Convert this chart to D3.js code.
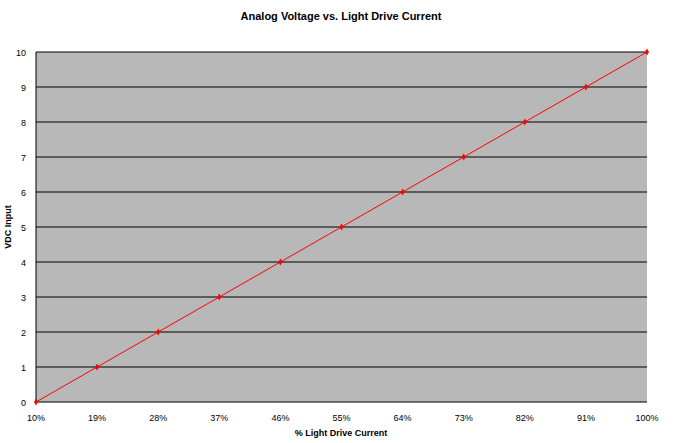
<!DOCTYPE html><html><head><meta charset="utf-8"><script src="https://cdn.jsdelivr.net/npm/d3@7"></script>
<style>body{margin:0;background:#fff}text{font-family:Arial,"Liberation Sans",sans-serif}</style></head><body><svg id="c" width="674" height="443"></svg><script>
const categories=["10%","19%","28%","37%","46%","55%","64%","73%","82%","91%","100%"];
const values=[0,1,2,3,4,5,6,7,8,9,10];
const yTicks=[0,1,2,3,4,5,6,7,8,9,10];
const svg=d3.select("#c");
const L=36,R=647,T=52,B=402;
const x=d3.scalePoint().domain(categories).range([L,R]);
const y=d3.scaleLinear().domain([0,10]).range([B,T]);
svg.append("rect").attr("x",L).attr("y",T).attr("width",R-L).attr("height",B-T).attr("fill","#b8b8b8");
svg.append("g").selectAll("line").data(yTicks).join("line").attr("x1",L).attr("x2",R).attr("y1",d=>y(d)).attr("y2",d=>y(d)).attr("stroke","#000").attr("stroke-width",1);
svg.append("line").attr("x1",L).attr("x2",L).attr("y1",T).attr("y2",B).attr("stroke","#000");
svg.append("g").selectAll("text").data(yTicks).join("text").attr("x",L-10).attr("y",d=>y(d)+4).attr("text-anchor","end").attr("font-size",9).text(d=>d);
svg.append("g").selectAll("text").data(categories).join("text").attr("x",d=>x(d)).attr("y",B+19).attr("text-anchor","middle").attr("font-size",9).text(d=>d);
svg.append("path").datum(values).attr("fill","none").attr("stroke","#ff0000").attr("stroke-width",1)
 .attr("d",d3.line().x((d,i)=>x(categories[i])).y(d=>y(d)));
svg.append("g").selectAll("path").data(values).join("path").attr("d",d3.symbol(d3.symbolDiamond,14)).attr("fill","#ff0000")
 .attr("transform",(d,i)=>`translate(${x(categories[i])},${y(d)})`);
svg.append("text").attr("x",341).attr("y",20).attr("text-anchor","middle").attr("font-size",11).attr("font-weight","bold").text("Analog Voltage vs. Light Drive Current");
svg.append("text").attr("x",341).attr("y",436).attr("text-anchor","middle").attr("font-size",9).attr("font-weight","bold").text("% Light Drive Current");
svg.append("text").attr("transform",`translate(11,${(T+B)/2}) rotate(-90)`).attr("text-anchor","middle").attr("font-size",9).attr("font-weight","bold").text("VDC Input");
</script></body></html>
